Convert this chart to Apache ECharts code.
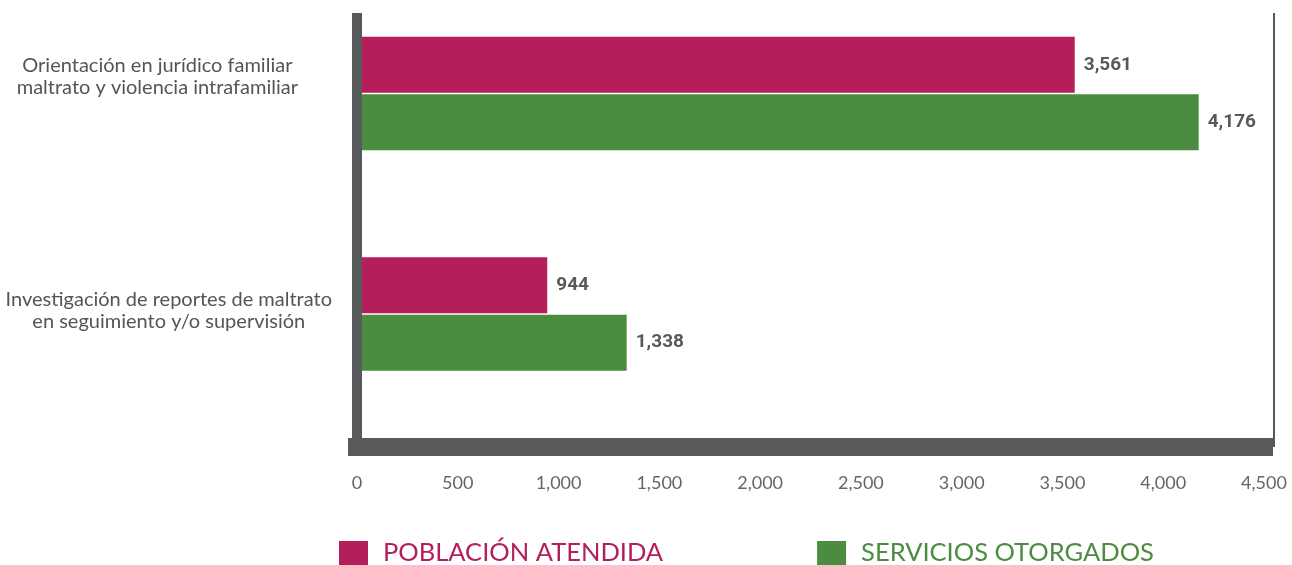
<!DOCTYPE html>
<html>
<head>
<meta charset="utf-8">
<script src="https://cdn.jsdelivr.net/npm/echarts@6/dist/echarts.min.js"></script>
<style>
  html, body { margin: 0; padding: 0; background: #fff; }
  #chart { width: 1292px; height: 565px; }
</style>
</head>
<body>
<div id="chart"></div>
<script>
const categories = [
  'Orientación en jurídico familiar\nmaltrato y violencia intrafamiliar',
  'Investigación de reportes de maltrato\nen seguimiento y/o supervisión',
]
const seriesNames = ['POBLACIÓN ATENDIDA', 'SERVICIOS OTORGADOS']
const poblacion = [3561, 944]
const servicios = [4176, 1338]
const xTicks = { min: 0, max: 4500, interval: 500 }

const gray = '#58595b'
const colors = ['#b31e5b', '#4b8c40']
const fmt = v => Number(v).toLocaleString('en-US')

// per-label nudges so the two captions sit where the original put them
const labelPad = [[0, 34, 33, 0], [0, 0, 6, 0]]

const valueLabel = {
  show: true,
  position: 'right',
  distance: 9,
  color: gray,
  fontFamily: 'Roboto',
  fontWeight: 'bold',
  fontSize: 19,
  formatter: p => fmt(p.value),
}

const chart = echarts.init(document.getElementById('chart'))

chart.setOption({
  animation: false,
  color: colors,
  grid: [
    { left: 357, right: 28, top: 13, height: 434, outerBoundsMode: 'none' },
    { left: 357, right: 28, top: -16.75, height: 441, outerBoundsMode: 'none' },
  ],
  xAxis: [
    {
      gridIndex: 0,
      type: 'value',
      min: xTicks.min,
      max: xTicks.max,
      interval: xTicks.interval,
      z: 5,
      axisLine: { show: true, lineStyle: { color: gray, width: 18, cap: 'square' } },
      axisTick: { show: false },
      splitLine: { show: false },
      axisLabel: {
        margin: 27,
        color: '#666',
        fontFamily: 'Lato',
        fontSize: 18,
        formatter: fmt,
      },
    },
    {
      gridIndex: 1,
      type: 'value',
      min: xTicks.min,
      max: xTicks.max,
      show: false,
    },
  ],
  yAxis: [
    {
      gridIndex: 0,
      type: 'value',
      min: 0,
      max: 1,
      z: 5,
      axisLine: { show: true, lineStyle: { color: gray, width: 10, cap: 'butt' } },
      axisTick: { show: false },
      axisLabel: { show: false },
      splitLine: { show: false },
    },
    {
      gridIndex: 0,
      type: 'value',
      position: 'right',
      offset: 10,
      min: 0,
      max: 1,
      axisLine: { show: true, lineStyle: { color: gray, width: 2, cap: 'butt' } },
      axisTick: { show: false },
      axisLabel: { show: false },
      splitLine: { show: false },
    },
    {
      gridIndex: 1,
      type: 'category',
      inverse: true,
      data: categories.map((c, i) => ({ value: c, textStyle: { padding: labelPad[i] } })),
      axisLine: { show: false },
      axisTick: { show: false },
      axisLabel: {
        margin: 25,
        align: 'right',
        formatter: v => v.split('\n').map(s => '{l|' + s + '}').join('\n'),
        rich: {
          l: {
            align: 'center',
            color: '#555',
            fontFamily: 'Lato',
            fontSize: 20,
            lineHeight: 22,
          },
        },
      },
    },
  ],
  legend: {
    left: 339,
    top: 540,
    padding: 0,
    itemWidth: 29,
    itemHeight: 24,
    itemGap: 154,
    icon: 'rect',
    textStyle: { fontFamily: 'Lato', fontSize: 25.5, padding: [0, 0, 0, 10] },
    data: seriesNames.map((n, i) => ({ name: n, textStyle: { color: colors[i] } })),
  },
  series: [
    {
      name: seriesNames[0],
      type: 'bar',
      xAxisIndex: 1,
      yAxisIndex: 2,
      data: poblacion,
      barWidth: 56,
      barGap: '2.5%',
      label: valueLabel,
    },
    {
      name: seriesNames[1],
      type: 'bar',
      xAxisIndex: 1,
      yAxisIndex: 2,
      data: servicios,
      barWidth: 56,
      barGap: '2.5%',
      label: valueLabel,
    },
  ],
})
</script>
</body>
</html>
